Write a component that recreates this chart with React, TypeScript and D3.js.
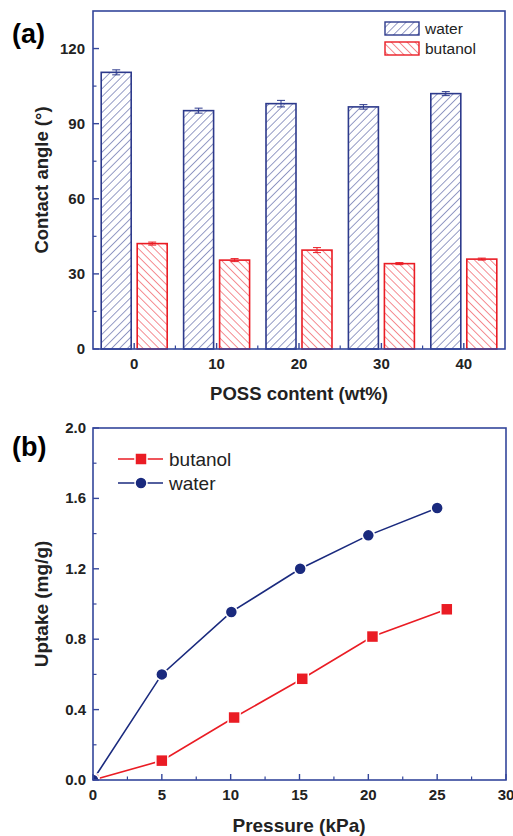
import * as d3 from 'd3'

// panel (a): contact angles
const categories = ['0', '10', '20', '30', '40']
const waterAngle = [110.5, 95.2, 98.0, 96.7, 102.0]
const waterErr = [1.0, 1.0, 1.3, 0.9, 0.8]
const butanolAngle = [42.1, 35.5, 39.5, 34.1, 35.9]
const butanolErr = [0.6, 0.6, 1.0, 0.4, 0.4]
const angleTicks = [0, 30, 60, 90, 120]
const angleMinor = [15, 45, 75, 105]

// panel (b): uptake vs pressure
const waterP = [0, 5, 10.05, 15.05, 20, 25]
const waterU = [0, 0.6, 0.955, 1.2, 1.39, 1.545]
const butanolP = [0, 5, 10.25, 15.2, 20.3, 25.7]
const butanolU = [0, 0.11, 0.355, 0.575, 0.815, 0.97]
const pressureTicks = [0, 5, 10, 15, 20, 25, 30]
const uptakeTicks = [0, 0.4, 0.8, 1.2, 1.6, 2.0]

const W = 513
const H = 836
const font = '"Liberation Sans", Arial, sans-serif'
const axisColor = '#34469b'
const blue = '#2d3a8c'
const red = '#ea1c24'
const navy = '#1a2a7e'

export default function App() {
  // ---- panel (a) scales
  const ax = d3.scaleBand().domain(categories).range([93, 505])
  const sub = d3.scaleBand().domain(['water', 'butanol'])
    .range([0, ax.bandwidth()]).paddingInner(1 / 6).paddingOuter(0.228)
  const ay = d3.scaleLinear().domain([0, 135]).range([349, 11])

  // ---- panel (b) scales
  const bx = d3.scaleLinear().domain([0, 30]).range([93, 506])
  const by = d3.scaleLinear().domain([0, 2.0]).range([780, 428])
  const minorP = d3.range(2.5, 30, 5)
  const minorU = d3.range(0.2, 2.0, 0.4)

  const line = d3.line<[number, number]>().x(d => bx(d[0])).y(d => by(d[1]))
  const waterPts = waterP.map((p, i) => [p, waterU[i]] as [number, number])
  const butanolPts = butanolP.map((p, i) => [p, butanolU[i]] as [number, number])

  const series = [
    { key: 'water', vals: waterAngle, errs: waterErr, color: blue, fill: 'url(#hatchW)' },
    { key: 'butanol', vals: butanolAngle, errs: butanolErr, color: red, fill: 'url(#hatchB)' },
  ]

  return (
    <svg width={W} height={H} style={{ position: 'absolute', left: 0, top: 0, background: '#fff' }}
      fontFamily={font}>
      <defs>
        <pattern id="hatchW" patternUnits="userSpaceOnUse" width={5.6} height={5.6}
          patternTransform="rotate(45)">
          <line x1={0} y1={0} x2={0} y2={5.6} stroke={blue} strokeWidth={1} />
        </pattern>
        <pattern id="hatchB" patternUnits="userSpaceOnUse" width={5.6} height={5.6}
          patternTransform="rotate(-45)">
          <line x1={0} y1={0} x2={0} y2={5.6} stroke={red} strokeWidth={1} />
        </pattern>
        <clipPath id="clipB">
          <rect x={bx(0)} y={by(2)} width={bx(30) - bx(0)} height={by(0) - by(2)} />
        </clipPath>
      </defs>

      {/* ================= (a) ================= */}
      <text x={12} y={43} fontSize={27} fontWeight="bold">(a)</text>

      {series.map(s => (
        <g key={s.key}>
          {categories.map((c, i) => {
            const x0 = ax(c)! + sub(s.key)!
            const bw = sub.bandwidth()
            const cx = x0 + bw / 2
            return (
              <g key={c}>
                <rect x={x0} y={ay(s.vals[i])} width={bw} height={ay(0) - ay(s.vals[i])}
                  fill={s.fill} stroke={s.color} strokeWidth={1.6} />
                <line x1={cx} x2={cx} y1={ay(s.vals[i] + s.errs[i])} y2={ay(s.vals[i] - s.errs[i])}
                  stroke={s.color} strokeWidth={1} />
                <line x1={cx - 4} x2={cx + 4} y1={ay(s.vals[i] + s.errs[i])} y2={ay(s.vals[i] + s.errs[i])}
                  stroke={s.color} strokeWidth={1} />
                <line x1={cx - 4} x2={cx + 4} y1={ay(s.vals[i] - s.errs[i])} y2={ay(s.vals[i] - s.errs[i])}
                  stroke={s.color} strokeWidth={1} />
              </g>
            )
          })}
        </g>
      ))}

      <rect x={93} y={ay(135)} width={505 - 93} height={ay(0) - ay(135)}
        fill="none" stroke={axisColor} strokeWidth={1.6} />

      {angleTicks.map(t => (
        <g key={t}>
          <line x1={93} x2={99} y1={ay(t)} y2={ay(t)} stroke={axisColor} strokeWidth={1.4} />
          <text x={85} y={ay(t) + 5} textAnchor="end" fontSize={15} fontWeight="bold" fill="#222">{t}</text>
        </g>
      ))}
      {angleMinor.map(t => (
        <line key={t} x1={93} x2={96.5} y1={ay(t)} y2={ay(t)} stroke={axisColor} strokeWidth={1.2} />
      ))}
      {categories.map(c => {
        const cx = ax(c)! + ax.bandwidth() / 2
        return (
          <g key={c}>
            <line x1={cx} x2={cx} y1={349} y2={343} stroke={axisColor} strokeWidth={1.4} />
            <text x={cx} y={369} textAnchor="middle" fontSize={15} fontWeight="bold" fill="#222">{c}</text>
          </g>
        )
      })}
      {categories.slice(1).map(c => (
        <line key={c} x1={ax(c)!} x2={ax(c)!} y1={349} y2={345.5} stroke={axisColor} strokeWidth={1.2} />
      ))}

      <text x={299} y={400} textAnchor="middle" fontSize={18.5} fontWeight="bold" fill="#222">POSS content (wt%)</text>
      <text transform={`translate(48,${(11 + 349) / 2}) rotate(-90)`} textAnchor="middle"
        fontSize={18.5} fontWeight="bold" fill="#222">Contact angle (°)</text>

      {/* legend (a) */}
      <rect x={385} y={22} width={34} height={13} fill="url(#hatchW)" stroke={blue} strokeWidth={1.4} />
      <text x={425} y={34} fontSize={15.5} fill="#222">water</text>
      <rect x={385} y={42} width={34} height={13} fill="url(#hatchB)" stroke={red} strokeWidth={1.4} />
      <text x={425} y={54} fontSize={15.5} fill="#222">butanol</text>

      {/* ================= (b) ================= */}
      <text x={12} y={456} fontSize={27} fontWeight="bold">(b)</text>

      <path d={line(butanolPts)!} fill="none" stroke={red} strokeWidth={1.6} />
      <path d={line(waterPts)!} fill="none" stroke={navy} strokeWidth={1.6} />
      <g clipPath="url(#clipB)">
        {butanolPts.map((d, i) => (
          <rect key={i} x={bx(d[0]) - 6} y={by(d[1]) - 6} width={12} height={12}
            fill={red} stroke="#fff" strokeWidth={1.5} />
        ))}
        {waterPts.map((d, i) => (
          <circle key={i} cx={bx(d[0])} cy={by(d[1])} r={6} fill={navy} stroke="#fff" strokeWidth={1.5} />
        ))}
      </g>

      <rect x={bx(0)} y={by(2)} width={bx(30) - bx(0)} height={by(0) - by(2)}
        fill="none" stroke={axisColor} strokeWidth={1.6} />

      {uptakeTicks.map(t => (
        <g key={t}>
          <line x1={93} x2={99} y1={by(t)} y2={by(t)} stroke={axisColor} strokeWidth={1.4} />
          <text x={86} y={by(t) + 5} textAnchor="end" fontSize={15} fontWeight="bold" fill="#222">{t.toFixed(1)}</text>
        </g>
      ))}
      {minorU.map(t => (
        <line key={t} x1={93} x2={96.5} y1={by(t)} y2={by(t)} stroke={axisColor} strokeWidth={1.2} />
      ))}
      {pressureTicks.map(t => (
        <g key={t}>
          <line x1={bx(t)} x2={bx(t)} y1={780} y2={774} stroke={axisColor} strokeWidth={1.4} />
          <text x={bx(t)} y={800} textAnchor="middle" fontSize={15} fontWeight="bold" fill="#222">{t}</text>
        </g>
      ))}
      {minorP.map(t => (
        <line key={t} x1={bx(t)} x2={bx(t)} y1={780} y2={776.5} stroke={axisColor} strokeWidth={1.2} />
      ))}

      <text x={299} y={832} textAnchor="middle" fontSize={19} fontWeight="bold" fill="#222">Pressure (kPa)</text>
      <text transform={`translate(48,${(428 + 780) / 2}) rotate(-90)`} textAnchor="middle"
        fontSize={19} fontWeight="bold" fill="#222">Uptake (mg/g)</text>

      {/* legend (b) */}
      <line x1={118} x2={163} y1={459} y2={459} stroke={red} strokeWidth={1.6} />
      <rect x={135} y={453} width={12} height={12} fill={red} stroke="#fff" strokeWidth={1.5} />
      <text x={169} y={465.5} fontSize={19} fill="#222">butanol</text>
      <line x1={118} x2={163} y1={483} y2={483} stroke={navy} strokeWidth={1.6} />
      <circle cx={141} cy={483} r={6} fill={navy} stroke="#fff" strokeWidth={1.5} />
      <text x={169} y={489.5} fontSize={19} fill="#222">water</text>
    </svg>
  )
}
